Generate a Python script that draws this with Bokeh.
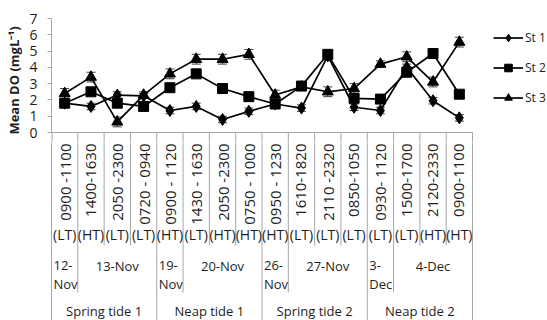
import numpy as np
from bokeh.plotting import figure
from bokeh.models import (Range1d, ColumnDataSource, Whisker, TeeHead, Legend,
                          LegendItem, FixedTicker)
from bokeh.layouts import column
from bokeh.embed import file_html
from bokeh.resources import INLINE
from bokeh.core.properties import value

# ---------------- data ----------------
times = ["0900 -1100", "1400-1630", "2050 -2300", "0720 - 0940",
         "0900 - 1120", "1430 - 1630", "2050 -2300", "0750 - 1000",
         "0950 - 1230", "1610-1820", "2110 -2320", "0850-1050",
         "0930- 1120", "1500-1700", "2120-2330", "0900-1100"]
tide_types = ["(LT)", "(HT)", "(LT)", "(LT)", "(HT)", "(LT)", "(HT)", "(HT)",
              "(HT)", "(LT)", "(LT)", "(LT)", "(LT)", "(LT)", "(HT)", "(HT)"]
date_labels = ["12-Nov", "13-Nov", "19-Nov", "20-Nov",
               "26-Nov", "27-Nov", "3-Dec", "4-Dec"]
date_counts = [1, 3, 1, 3, 1, 3, 1, 3]
tide_labels = ["Spring tide 1", "Neap tide 1", "Spring tide 2", "Neap tide 2"]
tide_counts = [4, 4, 4, 4]

st1 = [1.8, 1.6, 2.3, 2.25, 1.35, 1.6, 0.8, 1.3, 1.75, 1.5, 4.7, 1.55, 1.35, 4.0, 1.95, 0.9]
st2 = [1.8, 2.5, 1.8, 1.6, 2.75, 3.6, 2.7, 2.2, 1.75, 2.85, 4.8, 2.1, 2.05, 3.7, 4.85, 2.35]
st3 = [2.4, 3.4, 0.65, 2.3, 3.6, 4.5, 4.5, 4.8, 2.3, 2.8, 2.5, 2.7, 4.2, 4.65, 3.1, 5.55]
st1_err = [0.2, 0.2, 0.2, 0.15, 0.2, 0.2, 0.2, 0.2, 0.15, 0.2, 0.2, 0.2, 0.2, 0.2, 0.2, 0.2]
st2_err = [0.2, 0.2, 0.2, 0.15, 0.2, 0.2, 0.15, 0.15, 0.15, 0.2, 0.2, 0.15, 0.15, 0.2, 0.2, 0.2]
st3_err = [0.3, 0.3, 0.3, 0.2, 0.3, 0.3, 0.3, 0.3, 0.3, 0.2, 0.3, 0.3, 0.2, 0.3, 0.3, 0.3]
series_names = ["St 1", "St 2", "St 3"]
y_ticks = [0, 1, 2, 3, 4, 5, 6, 7]

# ---------------- layout constants (pixels) ----------------
FONT = "Open Sans"
W = 547
H = 320
LEFT = 51            # frame left edge
TOP = 18             # y = 7 position
AXIS_Y = 132         # y = 0 position
EXT_PX = 10          # part of the table drawn inside the chart figure
PLOT_W_PX = 421      # width of the category area
GRID = "#a6a6a6"
TXT = "#1e1e1e"

N = len(times)
x_end = N * (W - LEFT) / PLOT_W_PX
x_range = Range1d(0, x_end)
xs = [i + 0.5 for i in range(N)]
px_per_unit = (AXIS_Y - TOP) / (y_ticks[-1] - y_ticks[0])
y_lo = y_ticks[0] - EXT_PX / px_per_unit
TOP_FIG_H = AXIS_Y + EXT_PX
TABLE_H = H - TOP_FIG_H

# boundaries
date_bounds = set(np.cumsum([0] + date_counts).tolist())
tide_bounds = set(np.cumsum([0] + tide_counts).tolist())
bounds = list(range(1, N + 1))

# ---------------- chart ----------------
p = figure(width=W, height=TOP_FIG_H, x_range=x_range,
           y_range=Range1d(y_lo, y_ticks[-1]),
           output_backend="svg", toolbar_location=None, x_axis_location=None,
           min_border_left=LEFT, min_border_right=0, min_border_top=TOP,
           min_border_bottom=0)
p.outline_line_color = None
p.xgrid.visible = False
p.ygrid.visible = False

ax = p.yaxis[0]
ax.ticker = FixedTicker(ticks=y_ticks)
ax.bounds = (y_ticks[0], y_ticks[-1])
ax.axis_label = "Mean DO (mgL\u207b\u00b9)"
ax.axis_label_text_font = FONT
ax.axis_label_text_font_style = "bold"
ax.axis_label_text_font_size = "13px"
ax.axis_label_text_color = TXT
ax.axis_label_standoff = 3
ax.major_label_text_font = FONT
ax.major_label_text_font_size = "14px"
ax.major_label_text_color = TXT
ax.major_label_standoff = 10
ax.major_tick_out = 4
ax.major_tick_in = 0
ax.minor_tick_line_color = None
ax.axis_line_color = GRID
ax.major_tick_line_color = GRID

# x axis line, left border extension and separator tops inside chart figure
p.segment(x0=[0], y0=[y_ticks[0]], x1=[N], y1=[y_ticks[0]], line_color=GRID, line_width=1)
p.segment(x0=[0], y0=[y_ticks[0]], x1=[0], y1=[y_lo], line_color=GRID, line_width=2)
p.segment(x0=bounds, y0=[y_ticks[0]] * N, x1=bounds, y1=[y_lo] * N,
          line_color=GRID, line_width=1)

markers = ["diamond", "square", "triangle"]
sizes = [12, 10, 11]
items = []
for name, vals, errs, mk, sz in zip(series_names, [st1, st2, st3],
                                    [st1_err, st2_err, st3_err], markers, sizes):
    src = ColumnDataSource(dict(x=xs, y=vals,
                                upper=[v + e for v, e in zip(vals, errs)],
                                lower=[v - e for v, e in zip(vals, errs)]))
    wh = Whisker(source=src, base="x", upper="upper", lower="lower",
                 dimension="height", line_color="#404040", line_width=1,
                 upper_head=TeeHead(size=9, line_color="#404040", line_width=1),
                 lower_head=TeeHead(size=9, line_color="#404040", line_width=1),
                 level="underlay")
    p.add_layout(wh)
    ln = p.line("x", "y", source=src, line_color="black", line_width=1.7)
    sc = p.scatter("x", "y", source=src, marker=mk, size=sz,
                   fill_color="black", line_color="black")
    items.append(LegendItem(label=name, renderers=[ln, sc]))

# legend: first row centred ~37px, rows 30px apart, line starts at x~493
LEG_ITEM_H = 19
LEG_SPACING = 11
leg_h = 3 * LEG_ITEM_H + 2 * LEG_SPACING
leg_top = 37 - LEG_ITEM_H / 2
legend = Legend(items=items,
                location=(493 - LEFT, TOP_FIG_H - (leg_top + leg_h)),
                orientation="vertical", padding=0, margin=0,
                spacing=LEG_SPACING, glyph_width=30, glyph_height=LEG_ITEM_H,
                label_height=LEG_ITEM_H, label_standoff=2,
                border_line_color=None, background_fill_alpha=0,
                label_text_font=FONT, label_text_font_size="12px",
                label_text_color=TXT)
p.add_layout(legend)

# ---------------- category table ----------------
# y coordinate = -(pixels below the x axis line)
q = figure(width=W, height=TABLE_H, x_range=x_range,
           y_range=Range1d(-(EXT_PX + TABLE_H), -EXT_PX),
           output_backend="svg", toolbar_location=None, x_axis_location=None,
           min_border_left=LEFT, min_border_right=0, min_border_top=0,
           min_border_bottom=0)
q.outline_line_color = None
q.xgrid.visible = False
q.ygrid.visible = False
qa = q.yaxis[0]
qa.ticker = FixedTicker(ticks=[])
qa.major_label_text_font_size = "0px"
qa.major_tick_line_color = None
qa.minor_tick_line_color = None
qa.axis_line_color = GRID

TIME_TOP = 11
TT_Y = 102
INNER_DEPTH = 113
DATE1_Y = 133
DATE2_Y = 151
DATE_DEPTH = 160
TIDE_Y = 178
BOTTOM = EXT_PX + TABLE_H

sx, sy0, sy1 = [], [], []
for b in bounds:
    if b in tide_bounds:
        d = BOTTOM
    elif b in date_bounds:
        d = DATE_DEPTH
    else:
        d = INNER_DEPTH
    sx.append(b); sy0.append(-EXT_PX); sy1.append(-d)
q.segment(x0=sx, y0=sy0, x1=sx, y1=sy1, line_color=GRID, line_width=1)

q.text(x=xs, y=[-TIME_TOP] * N, text=times, angle=np.pi / 2,
       text_align="right", text_baseline="middle", text_font=value(FONT),
       text_font_size="15px", text_color=TXT)
q.text(x=xs, y=[-TT_Y] * N, text=tide_types, text_align="center",
       text_baseline="middle", text_font=value(FONT), text_font_size="14px",
       text_color=TXT)

dx, dy, dt, ddx, ddy, ddt = [], [], [], [], [], []
start = 0
off = 2 * x_end / (W - LEFT)
for lab, c in zip(date_labels, date_counts):
    if c == 1:
        a, b = lab.split("-")
        ddx += [start + off, start + off]
        ddy += [-DATE1_Y, -DATE2_Y]
        ddt += [a + "-", b]
    else:
        dx.append(start + c / 2); dy.append(-DATE1_Y); dt.append(lab)
    start += c
q.text(x=dx, y=dy, text=dt, text_align="center", text_baseline="middle",
       text_font=value(FONT), text_font_size="13px", text_color=TXT)
q.text(x=ddx, y=ddy, text=ddt, text_align="left", text_baseline="middle",
       text_font=value(FONT), text_font_size="13px", text_color=TXT)

tx, tt = [], []
start = 0
for lab, c in zip(tide_labels, tide_counts):
    tx.append(start + c / 2); tt.append(lab)
    start += c
q.text(x=tx, y=[-TIDE_Y] * len(tx), text=tt, text_align="center",
       text_baseline="middle", text_font=value(FONT), text_font_size="13px",
       text_color=TXT)

layout = column(p, q, spacing=0)
open("out.html", "w").write(file_html(layout, INLINE))
